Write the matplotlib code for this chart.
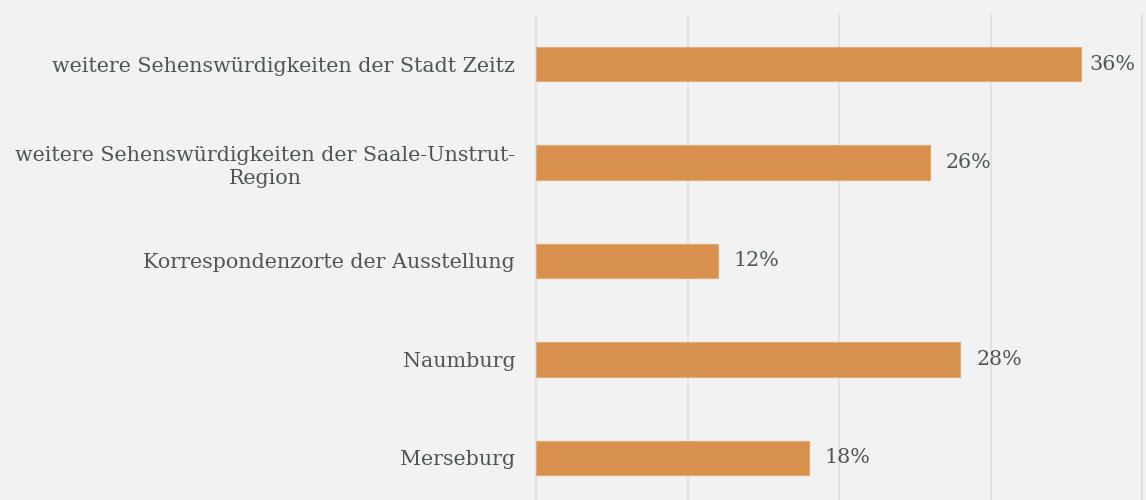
import matplotlib
matplotlib.use("Agg")
import matplotlib.pyplot as plt

categories = [
    "weitere Sehenswürdigkeiten der Stadt Zeitz",
    "weitere Sehenswürdigkeiten der Saale-Unstrut-\nRegion",
    "Korrespondenzorte der Ausstellung",
    "Naumburg",
    "Merseburg",
]
values = [0.36, 0.26, 0.12, 0.28, 0.18]
value_labels = ["36%", "26%", "12%", "28%", "18%"]

BG = "#f2f2f2"
BAR = "#d8914c"
TXT = "#4d5656"
GRID = "#dfe2e2"
FONT = "DejaVu Serif"

fig = plt.figure(figsize=(11.46, 5.0), dpi=100, facecolor=BG)
ax = fig.add_axes([536/1146, -7/500, (1142-536)/1146, 492/500], facecolor=BG)

y = list(range(len(categories)))
ax.barh(y, values, height=0.35, color=BAR, edgecolor="#e3a873", linewidth=0.8, zorder=3)
ax.set_ylim(len(categories) - 0.5, -0.5)
ax.set_xlim(0, 0.4)
ax.set_xticks([0, 0.1, 0.2, 0.3, 0.4])
ax.xaxis.grid(True, color=GRID, linewidth=1.5, zorder=0)
for gl in ax.get_xgridlines():
    gl.set_clip_on(False)
ax.tick_params(axis="x", length=0, labelbottom=False)
ax.tick_params(axis="y", length=0, pad=15)
ax.set_yticks(y)
ax.set_yticklabels(categories, fontsize=14.9, color=TXT, fontfamily=FONT, ha="right",
                   multialignment="center", linespacing=1.3)
for s in ax.spines.values():
    s.set_visible(False)

offsets = [6, 11.5, 11.5, 11.5, 11.5]
for yi, v, lab, off in zip(y, values, value_labels, offsets):
    ax.annotate(lab, (v, yi), xytext=(off, 0), textcoords="offset points",
                va="center", ha="left", fontsize=14.9, color=TXT, fontfamily=FONT)

fig.savefig("out.png", dpi=100, facecolor=BG)
